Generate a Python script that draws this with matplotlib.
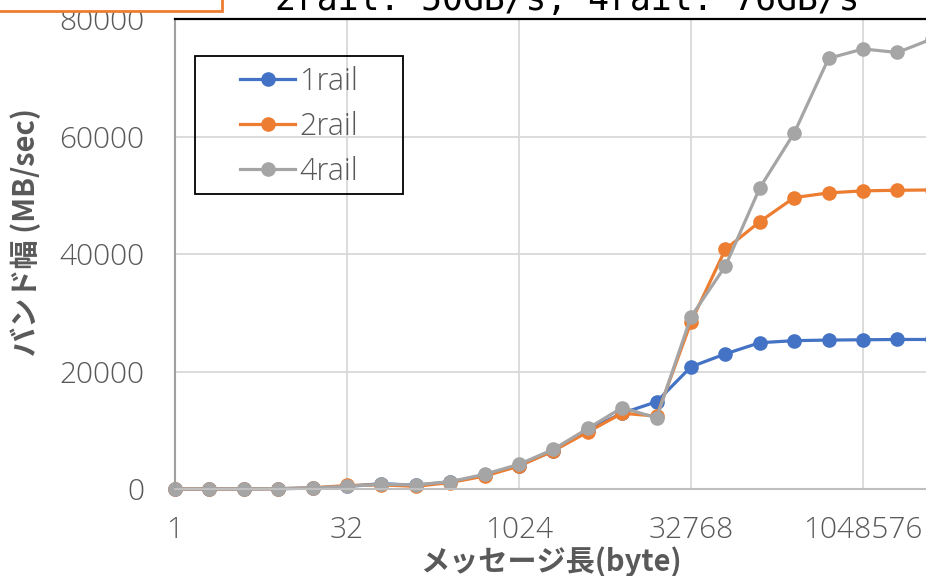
import matplotlib
matplotlib.use("Agg")
import matplotlib.pyplot as plt
from matplotlib.patches import Rectangle

# data
msg_size = [1, 2, 4, 8, 16, 32, 64, 128, 256, 512, 1024, 2048, 4096, 8192,
            16384, 32768, 65536, 131072, 262144, 524288, 1048576, 2097152, 4194304]
rail1 = [5, 10, 20, 40, 150, 450, 900, 650, 1200, 2300, 4000, 6500, 10100, 12900,
         14850, 20800, 23000, 24900, 25250, 25350, 25400, 25450, 25450]
rail2 = [6, 12, 25, 50, 200, 600, 700, 450, 1100, 2200, 3900, 6500, 9700, 12900,
         12400, 28400, 40800, 45500, 49600, 50400, 50750, 50850, 50900]
rail4 = [8, 15, 30, 60, 200, 450, 800, 700, 1250, 2500, 4200, 6750, 10300, 13850,
         12100, 29300, 37950, 51250, 60600, 73300, 74900, 74300, 76600]
series_names = ['1rail', '2rail', '4rail']
series_colors = ['#4472C4', '#ED7D31', '#A5A5A5']
x_ticks = [1, 32, 1024, 32768, 1048576]
y_ticks = [0, 20000, 40000, 60000, 80000]

plt.rcParams['font.family'] = ['Noto Sans CJK JP', 'DejaVu Sans']
text_color = '#595959'
num_font = {'family': ['Open Sans', 'DejaVu Sans'], 'weight': 'light'}

W, H = 926, 576
fig = plt.figure(figsize=(W / 100, H / 100), dpi=100)
fig.patch.set_facecolor('white')

# plot area: x=1 at px 175, 34.4 px per doubling, y from 489 (0) to 19 (80000)
aw = 23 * 34.4
ax = fig.add_axes([175 / W, (H - 489) / H, aw / W, 470 / H])

for vals, name, col in zip([rail1, rail2, rail4], series_names, series_colors):
    ax.plot(msg_size, vals, color=col, lw=2.3, marker='o', markersize=9.5,
            label=name, clip_on=False)

ax.set_xscale('log', base=2)
ax.set_xlim(1, 2 ** 23)
ax.set_ylim(0, 80000)
ax.set_xticks(x_ticks)
ax.set_xticklabels([str(v) for v in x_ticks], fontdict=num_font)
ax.minorticks_off()
ax.set_yticks(y_ticks)
ax.set_yticklabels([str(v) for v in y_ticks], fontdict=num_font)
ax.tick_params(axis='both', length=0, labelsize=21.5, labelcolor=text_color)
ax.tick_params(axis='x', pad=19)
ax.tick_params(axis='y', pad=22)

ax.grid(True, color='#d9d9d9', lw=1.3)
ax.set_axisbelow(True)
ax.spines['right'].set_visible(False)
ax.spines['top'].set_color('black')
ax.spines['top'].set_linewidth(1.6)
ax.spines['left'].set_color('#a0a0a0')
ax.spines['left'].set_linewidth(1.5)
ax.spines['bottom'].set_color('#bfbfbf')
ax.spines['bottom'].set_linewidth(1.5)

ax.set_xlabel('メッセージ長(byte)', fontsize=21, fontweight='bold', color=text_color)
ax.xaxis.label.set_va('center')
ax.xaxis.set_label_coords((551 - 175) / aw, -(562 - 489) / 470)
ax.set_ylabel('バンド幅 (MB/sec)', fontsize=21, fontweight='bold', color=text_color)
ax.yaxis.set_label_coords(-(175 - 41) / aw, (489 - 232) / 470)

# legend with its own frame
leg = ax.legend(loc='upper left', bbox_to_anchor=((240 - 175) / aw, (489 - 66) / 470),
                frameon=False, prop={'family': ['Open Sans', 'DejaVu Sans'],
                                     'weight': 'light', 'size': 22},
                handlelength=1.8, handletextpad=0.15, labelspacing=0.42,
                borderpad=0, borderaxespad=0)
for t in leg.get_texts():
    t.set_color(text_color)
ax.add_patch(Rectangle(((195 - 175) / aw, (489 - 194) / 470), (403 - 195) / aw, 138 / 470,
                       transform=ax.transAxes, fill=False, edgecolor='black', lw=1.3,
                       zorder=5, clip_on=False))

# cropped title text and orange text box at the top
fig.text(567 / W, 1 - 10 / H, '2rail: 50GB/s, 4rail: 76GB/s', family='DejaVu Sans Mono',
         fontsize=25, ha='center', va='baseline', color='black')
fig.add_artist(Rectangle((-0.01, 1 - 11 / H), 222 / W + 0.01, 0.1, transform=fig.transFigure,
                         facecolor='white', edgecolor='#ED7D31', lw=2, zorder=10))

fig.savefig('out.png', dpi=100)
